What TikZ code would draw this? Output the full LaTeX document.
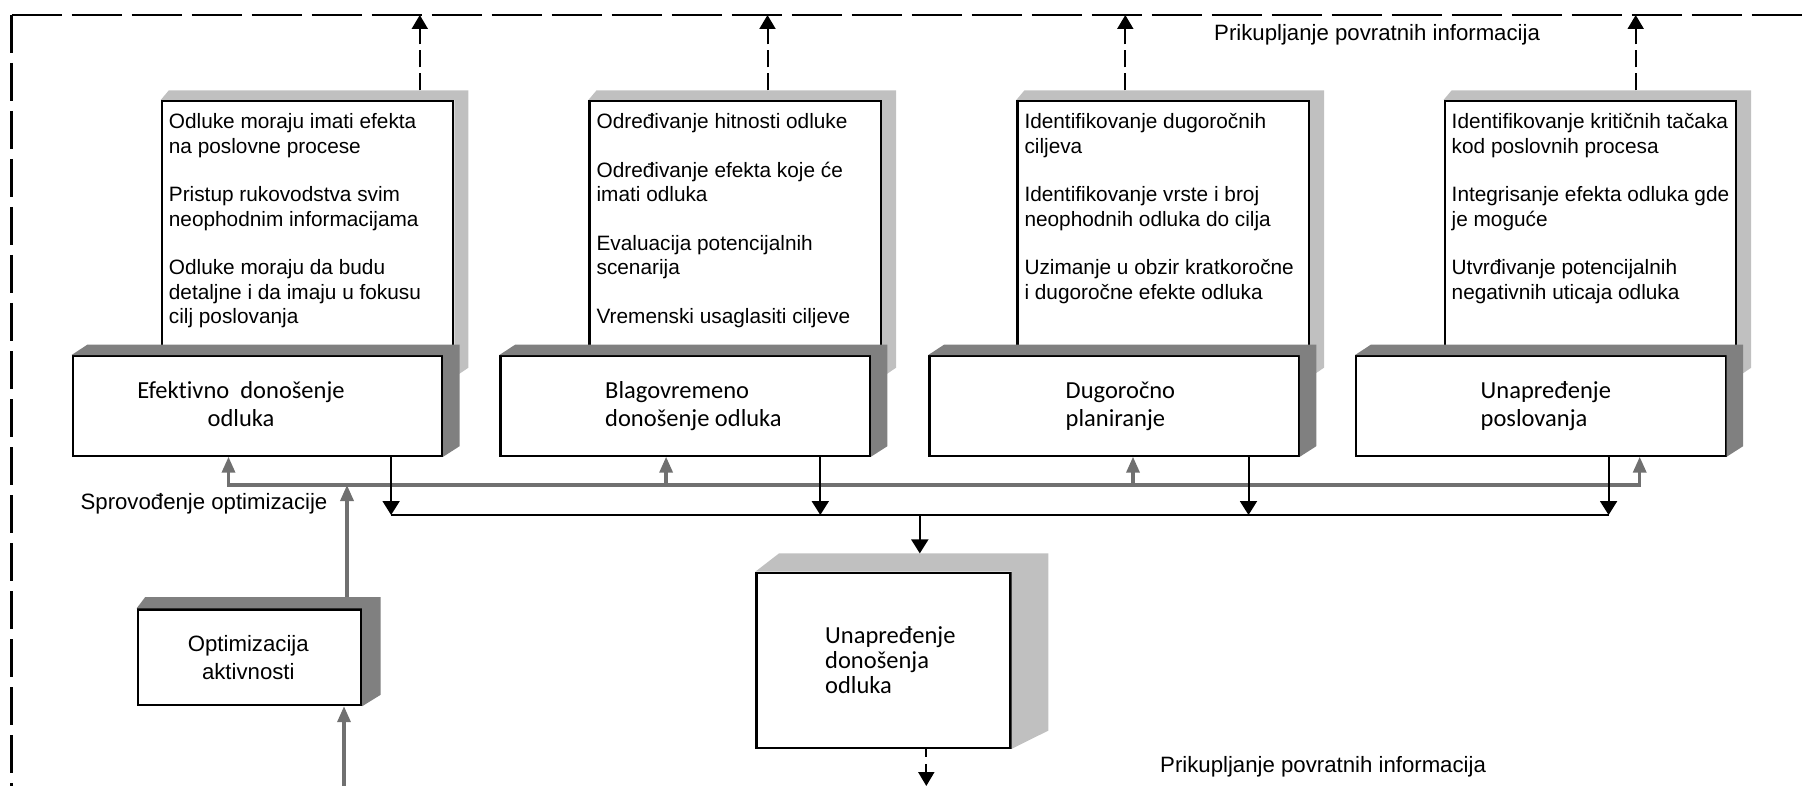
\documentclass[tikz,border=0pt]{standalone}
\usepackage{fontspec}
\setmainfont{Liberation Sans}[Ligatures=NoCommon]
\newfontfamily\labelfont{Carlito}[Ligatures=NoCommon]
\usetikzlibrary{arrows.meta,calc}

\definecolor{shadelight}{RGB}{192,192,192}
\definecolor{shadedark}{RGB}{128,128,128}
\definecolor{linkgray}{RGB}{112,112,112}

% extruded side of a box: node, left slant, right depth, height of the top face, colour
\newcommand\extrude[5]{%
  \fill[#5] (#1.north west) -- ++(#2,-#4) -- ($(#1.north east)+(#3,-#4)$)
    -- ($(#1.south east)+(#3,-#4)$) -- (#1.south east) -- (#1.north east) -- cycle;}

\newcommand\listfont{\fontsize{20.8}{24.5}\selectfont}
\newcommand\titlefont{\labelfont\fontsize{24.5}{28}\selectfont}
\newcommand\notefont{\fontsize{22.2}{27.3}\selectfont}

\begin{document}
\begin{tikzpicture}[x=1pt,y=-1pt,
  frontbox/.style={draw=black, line width=2.2pt, fill=white, anchor=north west, inner sep=0pt},
  listbox/.style={frontbox, minimum width=291.5pt, minimum height=275pt},
  titlebox/.style={frontbox, minimum width=369.4pt, minimum height=99.5pt},
  listtext/.style={anchor=base west, inner sep=0pt},
  titletext/.style={anchor=base west, inner sep=0pt},
  note/.style={anchor=base west, inner sep=0pt, font=\notefont},
  frame/.style={line width=2.2pt, draw=black},
  blackc/.style={line width=2pt, draw=black},
  grayc/.style={line width=3.4pt, draw=linkgray},
  dashc/.style={line width=2pt, draw=black, dash pattern=on 17pt off 6pt},
  bigtri/.tip={Triangle[width=17pt,length=14pt]},
  graytri/.tip={Triangle[width=13pt,length=16pt]},
  dashtri/.tip={Triangle[width=16pt,length=14pt]}]

\useasboundingbox (0,0) rectangle (1804,786);

% ---------- outer feedback frame ----------
\coordinate (frameBL) at (11.5,786);
\coordinate (frameTL) at (11.5,15);
\coordinate (frameTR) at (1804,15);
\draw[frame, dash pattern=on 38pt off 10pt] (frameTL) -- (frameBL);
\draw[frame, dash pattern=on 50pt off 10pt] (frameTL) -- (frameTR);

% ---------- description boxes ----------
\node[listbox] (tb1) at (160.7,100) {};
\extrude{tb1}{8}{14}{9.5}{shadelight}
\node[listbox] (tb2) at (588.4,100) {};
\extrude{tb2}{8}{14}{9.5}{shadelight}
\node[listbox] (tb3) at (1016.3,100) {};
\extrude{tb3}{8}{14}{9.5}{shadelight}
\node[listbox] (tb4) at (1443.5,100) {};
\extrude{tb4}{8}{14}{9.5}{shadelight}

% ---------- goal boxes ----------
\node[titlebox] (lb1) at (71.6,355) {};
\extrude{lb1}{16}{16.4}{10.5}{shadedark}
\node[titlebox] (lb2) at (499.4,355) {};
\extrude{lb2}{16}{16.4}{10.5}{shadedark}
\node[titlebox] (lb3) at (928.3,355) {};
\extrude{lb3}{16}{16.4}{10.5}{shadedark}
\node[titlebox] (lb4) at (1355.1,355) {};
\extrude{lb4}{16}{16.4}{10.5}{shadedark}

% ---------- optimisation and result boxes ----------
\node[frontbox, minimum width=223.3pt, minimum height=95.7pt] (opt) at (136.7,608.3) {};
\extrude{opt}{8.5}{18.3}{11.3}{shadedark}
\node[frontbox, minimum width=254.1pt, minimum height=175pt] (ud) at (755.3,571.7) {};
\extrude{ud}{23.7}{36.7}{18.3}{shadelight}

% ---------- feedback arrows to the frame ----------
\coordinate (up1) at (419.8,15);
\coordinate (up2) at (767.5,15);
\coordinate (up3) at (1125.3,15);
\coordinate (up4) at (1635.7,15);
\foreach \i in {1,2,3,4}
  \draw[dashc,-dashtri] ($(tb\i.north -| up\i)+(0,-9.5)$) -- (up\i);

% ---------- grey optimisation bus ----------
\coordinate (g1) at (228.5,485);
\coordinate (g2) at (666.1,485);
\coordinate (g3) at (1133,485);
\coordinate (g4) at (1639.7,485);
\coordinate (gopt) at (347,485);
\coordinate (optfeed) at (344,786);
\draw[grayc,graytri-graytri] (g1 |- lb1.south) -- (g1) -- (g4) -- (g4 |- lb4.south);
\draw[grayc,-graytri] (g2) -- (g2 |- lb2.south);
\draw[grayc,-graytri] (g3) -- (g3 |- lb3.south);
\draw[grayc,-graytri] ($(opt.north -| gopt)+(0,-11.3)$) -- (gopt);
\draw[grayc,-graytri] (optfeed) -- (optfeed |- opt.south);

% ---------- black result bus ----------
\coordinate (b1) at (391.1,515);
\coordinate (b2) at (820.3,515);
\coordinate (b3) at (1248.5,515);
\coordinate (b4) at (1608.6,515);
\coordinate (bud) at (919.8,515);
\draw[blackc] (b1) -- (b4);
\foreach \i in {1,2,3,4}
  \draw[blackc,-bigtri] (lb\i.south -| b\i) -- (b\i);
\draw[blackc,-bigtri] (bud) -- ($(ud.north -| bud)+(0,-18.3)$);

\coordinate (udout) at (926.3,786);
\draw[line width=2pt, dash pattern=on 8pt off 7pt,-dashtri] (ud.south -| udout) -- (udout);

% ---------- texts of the description boxes ----------
\node[listtext] (tx1) at ($(tb1.north west)+(8,29)$) {\parbox[t]{285pt}{\raggedright\listfont
  Odluke moraju imati efekta\\na poslovne procese\\[24pt]
  Pristup rukovodstva svim\\neophodnim informacijama\\[24pt]
  Odluke moraju da budu\\detaljne i da imaju u fokusu\\cilj poslovanja}};
\node[listtext] (tx2) at ($(tb2.north west)+(8,29)$) {\parbox[t]{285pt}{\raggedright\listfont
  Određivanje hitnosti odluke\\[24pt]
  Određivanje efekta koje će\\imati odluka\\[24pt]
  Evaluacija potencijalnih\\scenarija\\[24pt]
  Vremenski usaglasiti ciljeve}};
\node[listtext] (tx3) at ($(tb3.north west)+(8,29)$) {\parbox[t]{285pt}{\raggedright\listfont
  Identifikovanje dugoročnih\\ciljeva\\[24pt]
  Identifikovanje vrste i broj\\neophodnih odluka do cilja\\[24pt]
  Uzimanje u obzir kratkoročne\\i dugoročne efekte odluka}};
\node[listtext] (tx4) at ($(tb4.north west)+(8,29)$) {\parbox[t]{285pt}{\raggedright\listfont
  Identifikovanje kritičnih tačaka\\kod poslovnih procesa\\[24pt]
  Integrisanje efekta odluka gde\\je moguće\\[24pt]
  Utvrđivanje potencijalnih\\negativnih uticaja odluka}};

% ---------- texts of the goal boxes ----------
\node[anchor=base, inner sep=0pt] (lt1) at (241,398.5)
  {\parbox[t]{340pt}{\centering\titlefont Efektivno\ \ donošenje\\odluka}};
\node[titletext] (lt2) at (605,398.5)
  {\parbox[t]{250pt}{\raggedright\titlefont Blagovremeno\\donošenje odluka}};
\node[titletext] (lt3) at (1065.5,398.5)
  {\parbox[t]{220pt}{\raggedright\titlefont Dugoročno\\planiranje}};
\node[titletext] (lt4) at (1480.5,398.5)
  {\parbox[t]{220pt}{\raggedright\titlefont Unapređenje\\poslovanja}};

\node[anchor=base, inner sep=0pt] (optt) at (248.3,651.7)
  {\parbox[t]{200pt}{\centering\notefont Optimizacija\\aktivnosti}};
\node[titletext] (udt) at (825,643)
  {\parbox[t]{180pt}{\raggedright\labelfont\fontsize{24.5}{25}\selectfont Unapređenje\\donošenja\\odluka}};

% ---------- free labels ----------
\node[note] (fbtop) at (1214,41) {Prikupljanje povratnih informacija};
\node[note] (fbbottom) at (1160,772.5) {Prikupljanje povratnih informacija};
\node[note] (impl) at (80.4,509) {Sprovođenje optimizacije};

\end{tikzpicture}
\end{document}
